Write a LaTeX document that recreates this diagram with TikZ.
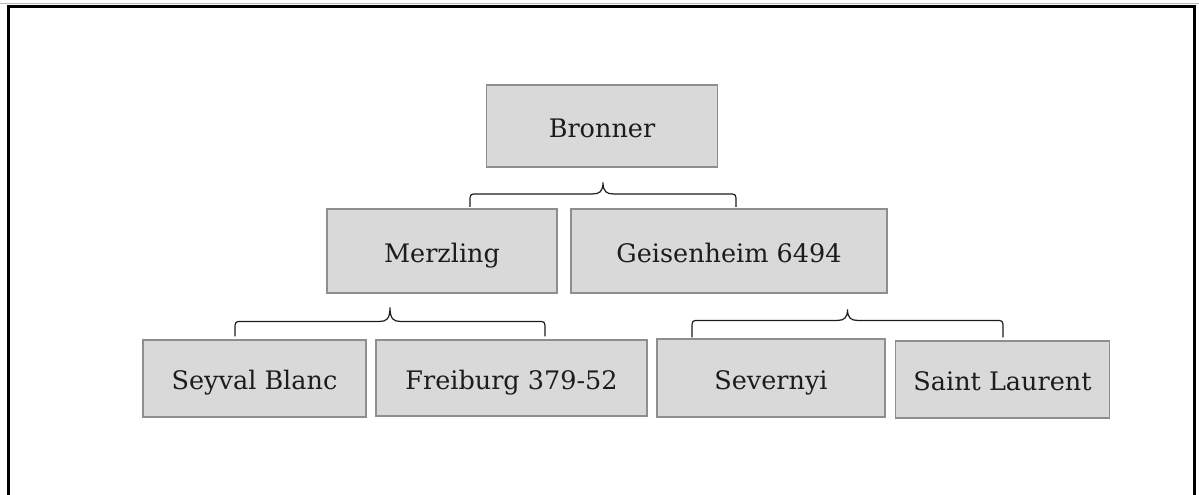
\documentclass[tikz,border=0pt]{standalone}
\usepackage{fontspec}
\setmainfont{DejaVu Serif}
\usetikzlibrary{calc}
\definecolor{boxfill}{HTML}{D9D9D9}
\definecolor{boxline}{HTML}{8E8E8E}
\definecolor{ink}{HTML}{1C1C1C}
% curly bracket joining two children: #1, #2 end points, #3 shoulder height, #4 tip height
\newcommand\familybrace[4]{%
  \coordinate (fbmid) at ($(#1)!0.5!(#2)$);
  \draw[bracket] let \p1=(#1), \p2=(#2), \p3=(fbmid) in
    (\p1) -- (\x1,\y1+#3-8pt) .. controls (\x1,\y1+#3) .. (\x1+8pt,\y1+#3)
    -- (\x3-10pt,\y1+#3) .. controls (\x3-4pt,\y1+#3) and (\x3,\y1+#3+2pt) .. (\x3,\y1+#4)
    .. controls (\x3,\y1+#3+2pt) and (\x3+4pt,\y1+#3) .. (\x3+10pt,\y1+#3)
    -- (\x2-8pt,\y1+#3) .. controls (\x2,\y1+#3) .. (\x2,\y1+#3-8pt) -- (\p2);}
\begin{document}
\begin{tikzpicture}[x=1pt,y=-1pt,
  cultivar/.style={draw=boxline, fill=boxfill, line width=1.2pt, inner sep=0pt,
    text=ink, font=\fontsize{25.5}{30}\selectfont, text height=22pt, text depth=0pt},
  bracket/.style={draw=ink, line width=1.2pt}]
\useasboundingbox (0,0) rectangle (1199,495);

% page frame
\draw[gray!55, line width=0.8pt] (0,3.5) -- (1199,3.5);
\draw[line width=3pt] (8,510) -- (8,6.5) -- (1194,6.5) -- (1194,510);

% cultivars
\node[cultivar, minimum width=231pt, minimum height=82pt] (bronner) at (602,126) {Bronner};
\node[cultivar, minimum width=230pt, minimum height=84pt] (merzling) at (442,251) {Merzling};
\node[cultivar, minimum width=316pt, minimum height=84pt] (geisenheim) at (729,251) {Geisenheim 6494};
\node[cultivar, minimum width=223pt, minimum height=77pt] (seyval) at (254.5,378.5) {Seyval Blanc};
\node[cultivar, minimum width=271pt, minimum height=76pt] (freiburg) at (511.5,378) {Freiburg 379-52};
\node[cultivar, minimum width=228pt, minimum height=78pt] (severnyi) at (771,378) {Severnyi};
\node[cultivar, minimum width=214pt, minimum height=77pt] (laurent) at (1002.5,379.5) {Saint Laurent};

% parentage brackets
\coordinate (b1l) at ($(merzling.north)+(28,-1.5)$);
\coordinate (b1r) at ($(geisenheim.north)+(7,-1.5)$);
\coordinate (b2l) at ($(seyval.north)+(-19.5,-3)$);
\coordinate (b2r) at ($(freiburg.north)+(33.5,-3)$);
\coordinate (b3l) at ($(severnyi.north)+(-79,-1)$);
\coordinate (b3r) at ($(laurent.north)+(0.5,-3)$);
\familybrace{b1l}{b1r}{13pt}{24.5pt}
\familybrace{b2l}{b2r}{15pt}{29pt}
\familybrace{b3l}{b3r}{17pt}{28pt}
\end{tikzpicture}
\end{document}
